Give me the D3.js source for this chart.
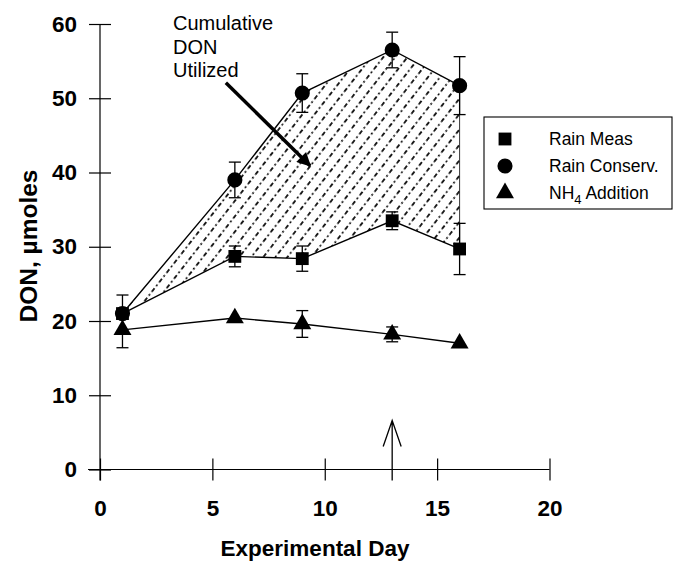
<!DOCTYPE html>
<html>
<head>
<meta charset="utf-8">
<script src="https://cdn.jsdelivr.net/npm/d3@7"></script>
<style>
  html, body { margin: 0; padding: 0; background: #fff; }
  svg { display: block; font-family: "Liberation Sans", Arial, Helvetica, sans-serif; }
</style>
</head>
<body>
<svg id="chart" width="675" height="561"></svg>
<script>
// ---- Data ----
const days = [1, 6, 9, 13, 16];
const rainMeas = [21.0, 28.7, 28.4, 33.5, 29.7];
const rainMeasErr = [0, 1.4, 1.7, 1.2, 3.45];
const rainConserv = [21.0, 39.0, 50.7, 56.5, 51.7];
const rainConservErr = [2.5, 2.4, 2.6, 2.4, 3.9];
const nh4 = [18.8, 20.4, 19.6, 18.2, 17.0];
const nh4Err = [2.4, 0, 1.8, 1.0, 0];
const xTicks = [0, 5, 10, 15, 20];
const yTicks = [0, 10, 20, 30, 40, 50, 60];
const legendLabels = ["Rain Meas", "Rain Conserv.", "NH4 Addition"];
const annotationLines = ["Cumulative", "DON", "Utilized"];
const eventDay = 13;

// ---- Setup ----
const svg = d3.select("#chart");
const x = d3.scaleLinear().domain([0, 20]).range([100, 549.5]);
const y = d3.scaleLinear().domain([0, 60]).range([469.5, 24]);

// hatch pattern
const defs = svg.append("defs");
const pat = defs.append("pattern")
  .attr("id", "hatch").attr("patternUnits", "userSpaceOnUse")
  .attr("width", 9.5).attr("height", 12)
  .attr("patternTransform", "rotate(38)");
pat.append("line").attr("x1", 4.75).attr("x2", 4.75).attr("y1", 0).attr("y2", 4.5)
  .attr("stroke", "#000").attr("stroke-width", 1.7);
pat.append("line").attr("x1", 4.75).attr("x2", 4.75).attr("y1", 7.5).attr("y2", 9.2)
  .attr("stroke", "#000").attr("stroke-width", 1.8);

defs.append("marker").attr("id", "ahead").attr("viewBox", "0 0 10 10")
  .attr("refX", 9).attr("refY", 5).attr("markerWidth", 5).attr("markerHeight", 4)
  .attr("markerUnits", "strokeWidth").attr("orient", "auto")
  .append("path").attr("d", "M0,0 L10,5 L0,10 Z").attr("fill", "#000");

// ---- Shaded area ----
const areaData = days.map((d, i) => ({ d, lo: rainMeas[i], hi: rainConserv[i] }));
svg.append("path").datum(areaData)
  .attr("d", d3.area().x(p => x(p.d)).y0(p => y(p.lo)).y1(p => y(p.hi)))
  .attr("fill", "url(#hatch)").attr("stroke", "none");
// right boundary
const last = areaData[areaData.length - 1];
svg.append("line").attr("x1", x(last.d)).attr("x2", x(last.d))
  .attr("y1", y(last.hi)).attr("y2", y(last.lo))
  .attr("stroke", "#000").attr("stroke-width", 0.8);

// ---- Axes ----
const xAxis = svg.append("g").attr("transform", `translate(0,${y(0)})`)
  .call(d3.axisBottom(x).tickValues(xTicks).tickSize(11).tickPadding(20).tickFormat(d3.format("d")));
xAxis.select(".domain").remove();
xAxis.selectAll(".tick line").attr("y1", -11).attr("y2", 11).attr("stroke-width", 1.2);
xAxis.selectAll(".tick text").attr("font-size", 22.5).attr("font-weight", "bold")
  .attr("font-family", "Liberation Sans, Arial, sans-serif").attr("fill", "#000");
svg.append("line").attr("x1", x(0) - 12).attr("x2", x(20)).attr("y1", y(0)).attr("y2", y(0))
  .attr("stroke", "#000").attr("stroke-width", 1.2);

const yAxis = svg.append("g").attr("transform", `translate(${x(0)},0)`)
  .call(d3.axisLeft(y).tickValues(yTicks).tickSize(11).tickPadding(12).tickFormat(d3.format("d")));
yAxis.select(".domain").remove();
yAxis.selectAll(".tick line").attr("x1", -11).attr("x2", 11).attr("stroke-width", 1.2);
yAxis.selectAll(".tick text").attr("font-size", 22.5).attr("font-weight", "bold")
  .attr("font-family", "Liberation Sans, Arial, sans-serif").attr("fill", "#000");
svg.append("line").attr("x1", x(0)).attr("x2", x(0)).attr("y1", y(60)).attr("y2", y(0) + 11)
  .attr("stroke", "#000").attr("stroke-width", 1.2);

svg.append("text").attr("x", 315).attr("y", 556)
  .attr("text-anchor", "middle").attr("font-size", 22.5).attr("font-weight", "bold")
  .text("Experimental Day");
svg.append("text").attr("transform", `translate(37,246) rotate(-90)`)
  .attr("text-anchor", "middle").attr("font-size", 24.5).attr("font-weight", "bold")
  .text("DON, µmoles");

// ---- Lines ----
const line = d3.line().x(p => x(p[0])).y(p => y(p[1]));
[rainConserv, rainMeas, nh4].forEach(vals => {
  svg.append("path").datum(days.map((d, i) => [d, vals[i]]))
    .attr("d", line).attr("fill", "none").attr("stroke", "#000").attr("stroke-width", 1.4);
});

// ---- Error bars ----
function errBars(vals, errs) {
  days.forEach((d, i) => {
    if (!errs[i]) return;
    const g = svg.append("g").attr("stroke", "#000").attr("stroke-width", 1.3);
    const cx = x(d), top = y(vals[i] + errs[i]), bot = y(vals[i] - errs[i]);
    g.append("line").attr("x1", cx).attr("x2", cx).attr("y1", top).attr("y2", bot);
    g.append("line").attr("x1", cx - 6).attr("x2", cx + 6).attr("y1", top).attr("y2", top);
    g.append("line").attr("x1", cx - 6).attr("x2", cx + 6).attr("y1", bot).attr("y2", bot);
  });
}
errBars(rainConserv, rainConservErr);
errBars(rainMeas, rainMeasErr);
errBars(nh4, nh4Err);

// ---- Markers ----
const sym = {
  square: d3.symbol().type(d3.symbolSquare).size(165),
  circle: d3.symbol().type(d3.symbolCircle).size(180),
  triangle: d3.symbol().type(d3.symbolTriangle).size(140)
};
function markers(vals, s) {
  days.forEach((d, i) => {
    svg.append("path").attr("d", s()).attr("transform", `translate(${x(d)},${y(vals[i])})`)
      .attr("fill", "#000");
  });
}
markers(rainMeas, sym.square);
markers(rainConserv, sym.circle);
markers(nh4, sym.triangle);

// ---- Annotation ----
const ann = svg.append("g").attr("font-size", 20);
annotationLines.forEach((t, i) => {
  ann.append("text").attr("x", 173).attr("y", 30 + i * 23.5).text(t);
});
svg.append("line")
  .attr("x1", x(5.6)).attr("y1", y(52.1)).attr("x2", x(9.35)).attr("y2", y(40.9))
  .attr("stroke", "#000").attr("stroke-width", 3.5).attr("marker-end", "url(#ahead)");

// event arrow at day 13
const ax = x(eventDay), atop = y(6.6);
svg.append("path")
  .attr("d", `M${ax},${y(0) + 11} L${ax},${atop} M${ax - 9},${atop + 26} L${ax},${atop} L${ax + 9},${atop + 26}`)
  .attr("fill", "none").attr("stroke", "#000").attr("stroke-width", 1.3);

// ---- Legend ----
const lg = svg.append("g");
lg.append("rect").attr("x", 484).attr("y", 117).attr("width", 188).attr("height", 92)
  .attr("fill", "#fff").attr("stroke", "#000").attr("stroke-width", 1.1);
const legSyms = [sym.square, sym.circle, sym.triangle];
legendLabels.forEach((lab, i) => {
  const cy = 139 + i * 27;
  lg.append("path").attr("d", legSyms[i]()).attr("transform", `translate(505,${cy})`).attr("fill", "#000");
  const t = lg.append("text").attr("x", 549).attr("y", cy + 6).attr("font-size", 17.5);
  if (lab.startsWith("NH4")) {
    t.append("tspan").text("NH");
    t.append("tspan").attr("font-size", 13).attr("dy", 5).text("4");
    t.append("tspan").attr("dy", -5).text(lab.slice(3));
  } else {
    t.text(lab);
  }
});
</script>
</body>
</html>
